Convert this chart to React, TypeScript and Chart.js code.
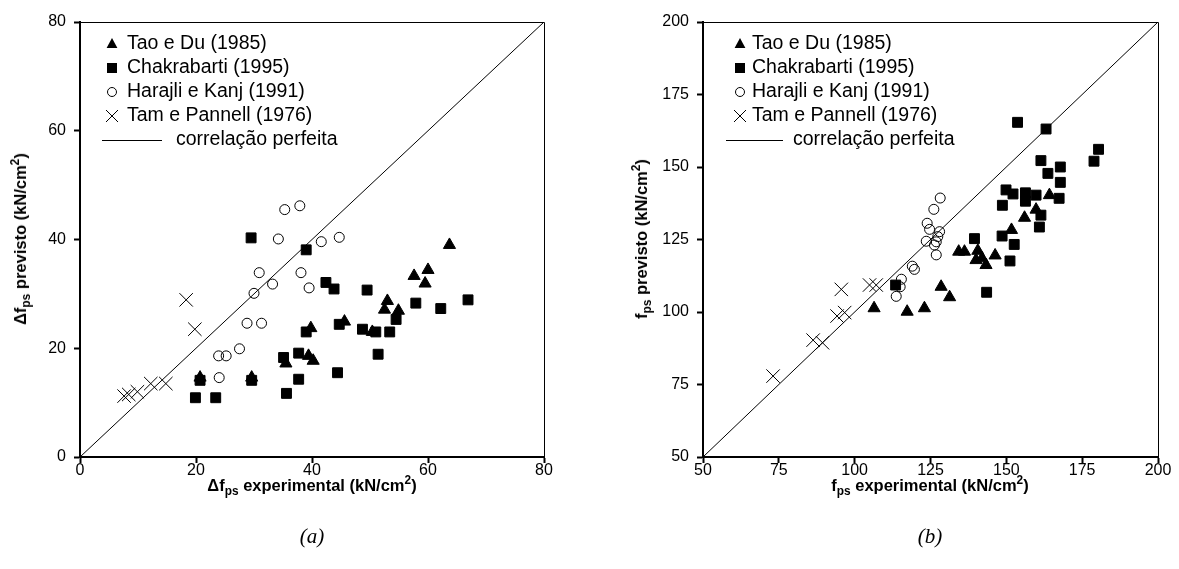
import React, { useEffect, useRef } from "react";
import { Chart, registerables } from "chart.js";
Chart.register(...registerables);

// ---------- data: panel (a) ----------
const axisA = [0, 80];
const taoA_x = [20.7, 29.6, 35.5, 39.4, 40.2, 39.8, 45.6, 50.4, 52.5, 53.0, 54.9, 57.6, 59.5, 60.0, 63.7];
const taoA_y = [14.6, 14.6, 17.2, 18.6, 17.7, 23.7, 24.9, 23.0, 27.1, 28.7, 26.9, 33.3, 31.9, 34.4, 39.0];
const chakA_x = [19.9, 23.4, 20.7, 29.6, 29.5, 35.1, 35.6, 37.7, 37.7, 39.0, 39.0, 42.4, 43.8, 44.4, 44.7, 48.7, 49.5, 51.0, 51.4, 53.4, 54.5, 57.9, 62.2, 66.9];
const chakA_y = [10.9, 10.9, 14.1, 14.1, 40.3, 18.3, 11.7, 19.1, 14.3, 23.0, 38.1, 32.1, 30.9, 15.5, 24.4, 23.5, 30.7, 23.0, 18.9, 23.0, 25.3, 28.3, 27.3, 28.9];
const harA_x = [24.0, 23.9, 25.2, 27.5, 28.8, 31.3, 30.0, 30.9, 33.2, 34.2, 35.3, 37.9, 38.1, 39.5, 41.6, 44.7];
const harA_y = [14.6, 18.6, 18.6, 19.9, 24.6, 24.6, 30.1, 33.9, 31.8, 40.1, 45.5, 46.2, 33.9, 31.1, 39.6, 40.4];
const tamA_x = [7.6, 8.4, 9.9, 12.2, 14.8, 18.3, 19.8];
const tamA_y = [11.2, 11.5, 12.0, 13.5, 13.5, 28.9, 23.5];

// ---------- data: panel (b) ----------
const axisB = [50, 200];
const taoB_x = [106.4, 117.3, 123.0, 128.5, 131.3, 134.3, 136.2, 140.6, 140.0, 142.0, 143.3, 146.3, 151.7, 156.0, 159.8, 164.2];
const taoB_y = [101.3, 100.1, 101.3, 108.7, 105.1, 120.8, 120.8, 121.1, 117.9, 118.5, 116.2, 119.5, 128.3, 132.5, 135.3, 140.3];
const chakB_x = [113.5, 139.5, 143.5, 148.6, 148.7, 149.9, 152.2, 151.2, 152.6, 153.7, 156.3, 156.3, 159.8, 160.9, 161.4, 161.4, 163.1, 163.7, 167.8, 167.8, 167.4, 178.9, 180.4];
const chakB_y = [109.3, 125.3, 106.8, 126.2, 136.8, 142.1, 140.7, 117.6, 123.3, 165.4, 141.1, 138.2, 140.3, 129.3, 133.4, 152.2, 163.1, 147.8, 150.0, 144.7, 139.2, 152.0, 156.1];
const harB_x = [113.7, 115.0, 115.4, 119.0, 119.7, 123.6, 123.9, 124.7, 126.1, 126.3, 126.9, 126.9, 127.4, 128.0, 128.2];
const harB_y = [105.4, 108.7, 111.3, 115.8, 114.7, 124.4, 130.6, 128.5, 135.4, 123.1, 119.7, 124.2, 126.0, 127.7, 139.3];
const tamB_x = [73.1, 86.3, 89.4, 94.2, 96.7, 95.6, 104.9, 107.1];
const tamB_y = [77.9, 90.3, 89.4, 98.6, 99.8, 107.8, 109.3, 109.3];

const seriesNames = ["Tao e Du (1985)", "Chakrabarti (1995)", "Harajli e Kanj (1991)", "Tam e Pannell (1976)"];
const lineName = "correlação perfeita";

const FONT = "'Liberation Sans', Arial, sans-serif";

const pts = (xs: number[], ys: number[]) => xs.map((x, i) => ({ x, y: ys[i] }));

const framePlugin = {
  id: "frame",
  afterDraw(chart: any) {
    const { ctx, chartArea } = chart;
    const { left, top, right, bottom } = chartArea;
    ctx.save();
    ctx.strokeStyle = "#000";
    ctx.lineWidth = 1;
    ctx.beginPath();
    ctx.moveTo(left, top + 0.5);
    ctx.lineTo(right + 0.5, top + 0.5);
    ctx.lineTo(right + 0.5, bottom);
    ctx.stroke();
    ctx.restore();
  },
};

const innerLegend = {
  id: "innerLegend",
  afterDraw(chart: any, _args: any, opts: any) {
    const { ctx, chartArea } = chart;
    const L = chartArea.left;
    const T = chartArea.top;
    ctx.save();
    ctx.fillStyle = "#000";
    ctx.strokeStyle = "#000";
    ctx.font = `${opts.fontSize}px ${FONT}`;
    ctx.textBaseline = "middle";
    const mx = L + opts.markerX;
    opts.rows.forEach((ry: number, i: number) => {
      const y = T + ry;
      ctx.lineWidth = 1;
      if (i === 0) {
        const r = 6;
        ctx.beginPath();
        ctx.moveTo(mx, y - r);
        ctx.lineTo(mx + r * 0.9, y + r * 0.65);
        ctx.lineTo(mx - r * 0.9, y + r * 0.65);
        ctx.closePath();
        ctx.fill();
      } else if (i === 1) {
        ctx.fillRect(mx - 5, y - 5, 10, 10);
      } else if (i === 2) {
        ctx.beginPath();
        ctx.arc(mx, y, 4.5, 0, Math.PI * 2);
        ctx.stroke();
      } else if (i === 3) {
        ctx.beginPath();
        ctx.moveTo(mx - 6, y - 6);
        ctx.lineTo(mx + 6, y + 6);
        ctx.moveTo(mx + 6, y - 6);
        ctx.lineTo(mx - 6, y + 6);
        ctx.stroke();
      }
      if (i < 4) ctx.fillText(seriesNames[i], L + opts.textX, y);
    });
    const ly = T + opts.lineRow;
    ctx.lineWidth = 1;
    ctx.beginPath();
    ctx.moveTo(L + opts.lineX0, ly + 0.5);
    ctx.lineTo(L + opts.lineX1, ly + 0.5);
    ctx.stroke();
    ctx.fillText(lineName, L + opts.lineTextX, ly);
    ctx.restore();
  },
};

type PanelCfg = {
  left: number;
  width: number;
  axis: number[];
  step: number;
  yWidth: number;
  padRight: number;
  series: { x: number[]; y: number[] }[];
  legend: any;
};

function Panel({ cfg }: { cfg: PanelCfg }) {
  const ref = useRef<HTMLCanvasElement | null>(null);
  useEffect(() => {
    if (!ref.current) return;
    const [mn, mx] = cfg.axis;
    const styles = [
      { pointStyle: "triangle", radius: 7, bg: "#000" },
      { pointStyle: "rect", radius: 7, bg: "#000" },
      { pointStyle: "circle", radius: 5, bg: "rgba(0,0,0,0)" },
      { pointStyle: "crossRot", radius: 9.5, bg: "rgba(0,0,0,0)" },
    ];
    const datasets: any[] = cfg.series.map((s, i) => ({
      type: "scatter",
      label: seriesNames[i],
      data: pts(s.x, s.y),
      pointStyle: styles[i].pointStyle,
      pointRadius: styles[i].radius,
      pointBackgroundColor: styles[i].bg,
      pointBorderColor: "#000",
      pointBorderWidth: 1,
      showLine: false,
    }));
    datasets.push({
      type: "line",
      label: lineName,
      data: [
        { x: mn, y: mn },
        { x: mx, y: mx },
      ],
      borderColor: "#000",
      borderWidth: 1,
      pointRadius: 0,
      fill: false,
    });
    const tickCommon = {
      color: "#000",
      font: { family: FONT, size: 16 },
      stepSize: cfg.step,
    };
    const gridCommon = {
      drawOnChartArea: false,
      drawTicks: true,
      tickLength: 6,
      tickColor: "#000",
      tickWidth: 2,
      color: "#000",
    };
    const chart = new Chart(ref.current, {
      type: "scatter",
      data: { datasets },
      options: {
        animation: false,
        responsive: false,
        events: [],
        layout: { padding: { left: 0, right: cfg.padRight, top: 22, bottom: 72 } },
        plugins: {
          legend: { display: false },
          tooltip: { enabled: false },
          innerLegend: cfg.legend,
        } as any,
        scales: {
          x: {
            type: "linear",
            min: mn,
            max: mx,
            ticks: { ...tickCommon, padding: -2 },
            grid: gridCommon,
            border: { display: true, color: "#000", width: 2 },
            afterFit: (s: any) => {
              s.height = 40;
            },
          },
          y: {
            type: "linear",
            min: mn,
            max: mx,
            ticks: { ...tickCommon, padding: 8 },
            grid: gridCommon,
            border: { display: true, color: "#000", width: 2 },
            afterFit: (s: any) => {
              s.width = cfg.yWidth;
            },
          },
        },
      } as any,
      plugins: [framePlugin, innerLegend],
    });
    return () => chart.destroy();
  }, []);
  return (
    <canvas
      ref={ref}
      width={cfg.width}
      height={569}
      style={{ position: "absolute", left: cfg.left, top: 0, width: cfg.width, height: 569 }}
    />
  );
}

const cfgA: PanelCfg = {
  left: 0,
  width: 590,
  axis: axisA,
  step: 20,
  yWidth: 80,
  padRight: 46,
  series: [
    { x: taoA_x, y: taoA_y },
    { x: chakA_x, y: chakA_y },
    { x: harA_x, y: harA_y },
    { x: tamA_x, y: tamA_y },
  ],
  legend: { fontSize: 19.5, markerX: 32, textX: 47, rows: [22, 46, 70, 94], lineRow: 118, lineX0: 22, lineX1: 82, lineTextX: 96 },
};

const cfgB: PanelCfg = {
  left: 600,
  width: 579,
  axis: axisB,
  step: 25,
  yWidth: 103,
  padRight: 21,
  series: [
    { x: taoB_x, y: taoB_y },
    { x: chakB_x, y: chakB_y },
    { x: harB_x, y: harB_y },
    { x: tamB_x, y: tamB_y },
  ],
  legend: { fontSize: 19.5, markerX: 37, textX: 49, rows: [22, 46, 70, 94], lineRow: 118, lineX0: 23, lineX1: 80, lineTextX: 90 },
};

const titleStyle: React.CSSProperties = {
  position: "absolute",
  fontFamily: FONT,
  fontWeight: "bold",
  fontSize: 16.5,
  whiteSpace: "nowrap",
  color: "#000",
  lineHeight: "20px",
};
const subStyle: React.CSSProperties = { fontSize: "0.72em", verticalAlign: "-0.3em", lineHeight: 0 };
const supStyle: React.CSSProperties = { fontSize: "0.72em", verticalAlign: "0.55em", lineHeight: 0 };

function XTitle({ cx, cy, delta }: { cx: number; cy: number; delta: boolean }) {
  return (
    <div style={{ ...titleStyle, left: cx, top: cy, transform: "translate(-50%,-50%)" }}>
      {delta ? "Δ" : ""}f<span style={subStyle}>ps</span> experimental (kN/cm<span style={supStyle}>2</span>)
    </div>
  );
}
function YTitle({ cx, cy, delta }: { cx: number; cy: number; delta: boolean }) {
  return (
    <div style={{ ...titleStyle, left: cx, top: cy, transform: "translate(-50%,-50%) rotate(-90deg)" }}>
      {delta ? "Δ" : ""}f<span style={subStyle}>ps</span> previsto (kN/cm<span style={supStyle}>2</span>)
    </div>
  );
}
function Caption({ cx, cy, text }: { cx: number; cy: number; text: string }) {
  return (
    <div
      style={{
        position: "absolute",
        left: cx,
        top: cy,
        transform: "translate(-50%,-50%)",
        fontFamily: "'Liberation Serif', 'Times New Roman', serif",
        fontStyle: "italic",
        fontSize: 21,
        whiteSpace: "nowrap",
      }}
    >
      {text}
    </div>
  );
}

export default function App() {
  return (
    <div style={{ position: "absolute", left: 0, top: 0, width: 1179, height: 569, background: "#fff", overflow: "hidden" }}>
      <Panel cfg={cfgA} />
      <Panel cfg={cfgB} />
      <XTitle cx={312} cy={485} delta={true} />
      <YTitle cx={20} cy={239} delta={true} />
      <XTitle cx={930} cy={485} delta={false} />
      <YTitle cx={641} cy={239} delta={false} />
      <Caption cx={312} cy={536} text="(a)" />
      <Caption cx={930} cy={536} text="(b)" />
    </div>
  );
}
